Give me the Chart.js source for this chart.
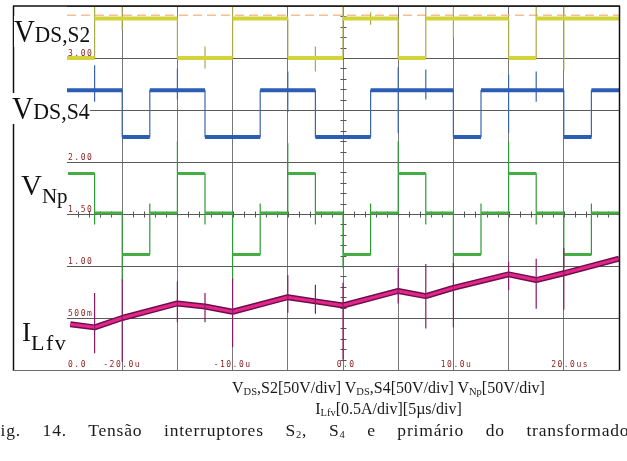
<!DOCTYPE html>
<html>
<head>
<meta charset="utf-8">
<script src="https://cdn.jsdelivr.net/npm/chart.js@4/dist/chart.umd.min.js"></script>
<style>
html, body { margin: 0; padding: 0; background: #fff; overflow: hidden; width: 627px; height: 461px; }
#wrap { position: relative; width: 627px; height: 461px; overflow: hidden; }
#scope { position: absolute; left: 0; top: 0; }
.lbl { position: absolute; font-family: "Liberation Serif", "Times New Roman", serif; color: #111; background: #fff; white-space: nowrap; line-height: 1; transform-origin: left top; }
.lbl span { display: inline-block; }
.cap { position: absolute; font-family: "Liberation Serif", "Times New Roman", serif; font-size: 16px; line-height: 1; color: #1a1a1a; white-space: nowrap; }
.cap sub { font-size: 10.5px; vertical-align: -2px; line-height: 1; }
</style>
</head>
<body>
<div id="wrap">
  <canvas id="scope" width="627" height="461"></canvas>

  <div class="lbl" style="left:14px;top:16px;font-size:31px;transform:scaleX(0.93)">V<span style="font-size:23px">DS,S2</span></div>
  <div class="lbl" style="left:12px;top:93px;font-size:31px;transform:scaleX(0.95)">V<span style="font-size:23px">DS,S4</span></div>
  <div class="lbl" style="left:21px;top:171px;font-size:29px">V<span style="font-size:21px;vertical-align:-8px">Np</span></div>
  <div class="lbl" style="left:22px;top:319px;font-size:27px">I<span style="font-size:22px;letter-spacing:1.5px;vertical-align:-9px">Lfv</span></div>

  <div class="cap" style="left:150px;width:477px;top:380px;text-align:center">V<sub>DS</sub>,S2[50V/div] V<sub>DS</sub>,S4[50V/div] V<sub>Np</sub>[50V/div]</div>
  <div class="cap" style="left:150px;width:477px;top:401px;text-align:center">I<sub>Lfv</sub>[0.5A/div][5µs/div]</div>
  <div class="cap" style="left:-10px;width:646px;top:422px;font-size:17.5px;letter-spacing:0.8px;text-align:justify;text-align-last:justify">Fig. 14. Tensão interruptores S<sub>2</sub>, S<sub>4</sub> e primário do transformador</div>
</div>

<script>
// time axis in us, vertical axis in scope units (0.5 per division)
const tStart = -25;
const tEnd = 25;

const xTicks = [-20, -10, 0, 10, 20];
const xTickLabels = ["-20.0u", "-10.0u", "0.0", "10.0u", "20.0us"];
const yTicks = [0, 0.5, 1, 1.5, 2, 3];
const yTickLabels = ["0.0", "500m", "1.00", "1.50", "2.00", "3.00"];

const markerLevel = 3.41;

// VDS,S2 (yellow)
const s2Times = [-25, -22.5, -15, -10, -5, 0, 5, 7.5, 15, 17.5];
const s2Levels = [3.0, 3.38, 3.0, 3.38, 3.0, 3.38, 3.0, 3.38, 3.0, 3.38];
const s2SpikeT = [-22.5, -20, -12.5, -10, -2.5, 0, 2.5, 7.5, 10, 17.5, 20];
const s2SpikeHi = [3.5, 3.49, 3.11, 3.5, 3.11, 3.5, 3.44, 3.5, 3.5, 3.5, 3.5];
const s2SpikeLo = [3.27, 3.27, 2.9, 3.29, 2.87, 3.22, 3.32, 3.27, 3.2, 3.27, 2.88];

// VDS,S4 (blue)
const s4Times = [-25, -20, -17.5, -12.5, -7.5, -2.5, 2.5, 10, 12.5, 20, 22.5];
const s4Levels = [2.69, 2.24, 2.69, 2.24, 2.69, 2.24, 2.69, 2.24, 2.69, 2.24, 2.69];
const s4SpikeT = [-22.5, -15, -5, 5, 7.5, 15, 17.5];
const s4SpikeHi = [2.93, 2.9, 2.87, 2.91, 2.89, 2.84, 2.87];
const s4SpikeLo = [2.58, 2.6, 2.48, 2.28, 2.6, 2.28, 2.58];

// VNp (green)
const npTimes = [-25, -22.5, -20, -17.5, -15, -12.5, -10, -7.5, -5, -2.5, 0, 2.5, 5, 7.5, 10, 12.5, 15, 17.5, 20, 22.5];
const npLevels = [1.89, 1.51, 1.11, 1.51, 1.89, 1.51, 1.11, 1.51, 1.89, 1.51, 1.11, 1.51, 1.89, 1.51, 1.11, 1.51, 1.89, 1.51, 1.11, 1.51];
const npSpikeT = [-22.5, -20, -17.5, -15, -12.5, -10, -7.5, -5, -2.5, 0, 2.5, 5, 7.5, 10, 12.5, 15, 17.5, 20, 22.5];
const npSpikeHi = [1.89, 1.51, 1.6, 2.2, 1.89, 1.51, 1.6, 2.18, 1.89, 1.51, 1.6, 2.2, 1.89, 1.51, 1.6, 2.2, 1.89, 1.51, 1.6];
const npSpikeLo = [1.4, 0.86, 1.51, 1.8, 1.4, 0.87, 1.51, 1.8, 1.4, 0.98, 1.51, 1.8, 1.4, 0.98, 1.51, 1.8, 1.4, 0.98, 1.51];

// ILfv (magenta)
const ilTimes = [-24.7, -22.5, -20, -15, -12.5, -10, -5, -2.5, 0, 5, 7.5, 10, 15, 17.5, 20, 25];
const ilValues = [0.44, 0.41, 0.5, 0.64, 0.61, 0.56, 0.7, 0.66, 0.62, 0.76, 0.71, 0.79, 0.92, 0.865, 0.93, 1.07];
const ilSpikeT = [-22.5, -20, -15, -12.5, -10, -5, -2.5, 0, 5, 7.5, 10, 15, 17.5, 20];
const ilSpikeHi = [0.74, 0.87, 0.85, 0.74, 0.88, 0.91, 0.82, 0.84, 0.98, 1.02, 1.03, 1.04, 1.07, 1.17];
const ilSpikeLo = [0.16, 0.08, 0.46, 0.46, 0.22, 0.55, 0.54, 0.1, 0.64, 0.4, 0.41, 0.77, 0.59, 0.58];

// full waveform with edges and ringing, drawn thin
function stepLine(times, levels, spikeT, spikeHi, spikeLo) {
  const marks = [...new Set([...times, ...spikeT])].sort((a, b) => a - b);
  const pts = [];
  let cur = levels[0];
  marks.forEach(t => {
    pts.push({ x: t, y: cur });
    const k = spikeT.indexOf(t);
    if (k >= 0) pts.push({ x: t, y: spikeHi[k] }, { x: t, y: spikeLo[k] });
    const j = times.indexOf(t);
    if (j >= 0) cur = levels[j];
    pts.push({ x: t, y: cur });
  });
  pts.push({ x: tEnd, y: cur });
  return pts;
}

// only the flat parts, drawn thick like the scope's noisy band
function stepBand(times, levels) {
  const pts = [];
  times.forEach((t, i) => {
    const next = i + 1 < times.length ? times[i + 1] : tEnd;
    pts.push({ x: t, y: levels[i] }, { x: next, y: levels[i] }, { x: next, y: null });
  });
  return pts;
}

function spikes(spikeT, spikeHi, spikeLo) {
  const pts = [];
  spikeT.forEach((t, k) => {
    pts.push({ x: t, y: spikeHi[k] }, { x: t, y: spikeLo[k] }, { x: t, y: null });
  });
  return pts;
}

function line(data, color, width, extra) {
  return Object.assign({ data: data, borderColor: color, borderWidth: width, pointRadius: 0, fill: false, spanGaps: false }, extra || {});
}

const scopeDecor = {
  id: "scopeDecor",
  beforeDatasetsDraw(chart) {
    const { ctx, chartArea: a, scales: { x, y } } = chart;
    ctx.save();

    // centre axes with minor ticks
    ctx.strokeStyle = "#555";
    ctx.lineWidth = 1;
    const cx = Math.round(x.getPixelForValue(0)) + 0.5;
    const cy = Math.round(y.getPixelForValue(1.5)) + 0.5;
    ctx.beginPath();
    for (let i = 1; i < 35; i++) {
      const py = Math.round(y.getPixelForValue(i * 0.1)) + 0.5;
      ctx.moveTo(cx - 3, py); ctx.lineTo(cx + 3, py);
    }
    for (let i = 1; i < 50; i++) {
      const px = Math.round(x.getPixelForValue(tStart + i)) + 0.5;
      ctx.moveTo(px, cy - 3); ctx.lineTo(px, cy + 3);
    }
    ctx.stroke();

    // scope style labels inside the grid
    ctx.fillStyle = "#8b1c1c";
    ctx.font = '8px "DejaVu Sans Mono"';
    ctx.letterSpacing = "1.5px";
    ctx.textAlign = "left";
    ctx.textBaseline = "alphabetic";
    yTicks.forEach((v, i) => {
      ctx.fillText(yTickLabels[i], a.left + 1, Math.min(y.getPixelForValue(v) - 2, a.bottom - 3));
    });
    xTicks.forEach((t, i) => {
      const s = xTickLabels[i];
      const w = ctx.measureText(s.split(".")[0]).width;
      ctx.fillText(s, x.getPixelForValue(t) - w, a.bottom - 3);
    });
    ctx.restore();
  },
  afterDraw(chart) {
    const { ctx, chartArea: a } = chart;
    ctx.save();
    ctx.lineWidth = 1.5;
    ctx.strokeStyle = "#111";
    ctx.beginPath();
    ctx.moveTo(13, a.top); ctx.lineTo(a.right + 1, a.top);
    ctx.moveTo(13.5, a.top); ctx.lineTo(13.5, a.bottom + 1);
    ctx.moveTo(a.right + 0.5, a.top); ctx.lineTo(a.right + 0.5, a.bottom + 1);
    ctx.stroke();
    ctx.strokeStyle = "#6a6a6a";
    ctx.lineWidth = 1;
    ctx.beginPath();
    ctx.moveTo(13, a.bottom + 0.5); ctx.lineTo(a.right + 1, a.bottom + 0.5);
    ctx.stroke();
    ctx.restore();
  }
};

new Chart(document.getElementById("scope"), {
  type: "line",
  data: {
    datasets: [
      line(spikes(ilSpikeT, ilSpikeHi, ilSpikeLo), "#8a1a64", 1.2),
      line(ilTimes.map((t, i) => ({ x: t, y: ilValues[i] })), "#e4268c", 3),
      line(ilTimes.map((t, i) => ({ x: t, y: ilValues[i] })), "#6e1048", 6),

      line(stepBand(npTimes, npLevels), "#44ad44", 3),
      line(stepLine(npTimes, npLevels, npSpikeT, npSpikeHi, npSpikeLo), "#2f9a38", 1.2),

      line(stepBand(s4Times, s4Levels), "#2a5db3", 4),
      line(stepLine(s4Times, s4Levels, s4SpikeT, s4SpikeHi, s4SpikeLo), "#3d66b0", 1.2),

      line(stepBand(s2Times, s2Levels), "#d3d43a", 4),
      line(stepLine(s2Times, s2Levels, s2SpikeT, s2SpikeHi, s2SpikeLo), "#a9aa4c", 1.2),

      line([{ x: tStart, y: markerLevel }, { x: tEnd, y: markerLevel }], "#f6bf92", 1.5, { borderDash: [9, 5] })
    ]
  },
  options: {
    responsive: false,
    animation: false,
    events: [],
    layout: { padding: { left: 67, top: 6, right: 8, bottom: 91 } },
    plugins: { legend: { display: false }, tooltip: { enabled: false } },
    elements: { point: { radius: 0 }, line: { tension: 0, borderJoinStyle: "bevel", borderCapStyle: "butt" } },
    scales: {
      x: {
        type: "linear", min: tStart, max: tEnd,
        ticks: { display: false, stepSize: 5 },
        grid: { drawTicks: false, color: c => (c.tick && c.tick.value === tStart ? "rgba(0,0,0,0)" : "#777") },
        border: { display: false }
      },
      y: {
        type: "linear", min: 0, max: 3.5,
        ticks: { display: false, stepSize: 0.5 },
        grid: { drawTicks: false, color: "#5a5a5a" },
        border: { display: false }
      }
    }
  },
  plugins: [scopeDecor]
});
</script>
</body>
</html>
